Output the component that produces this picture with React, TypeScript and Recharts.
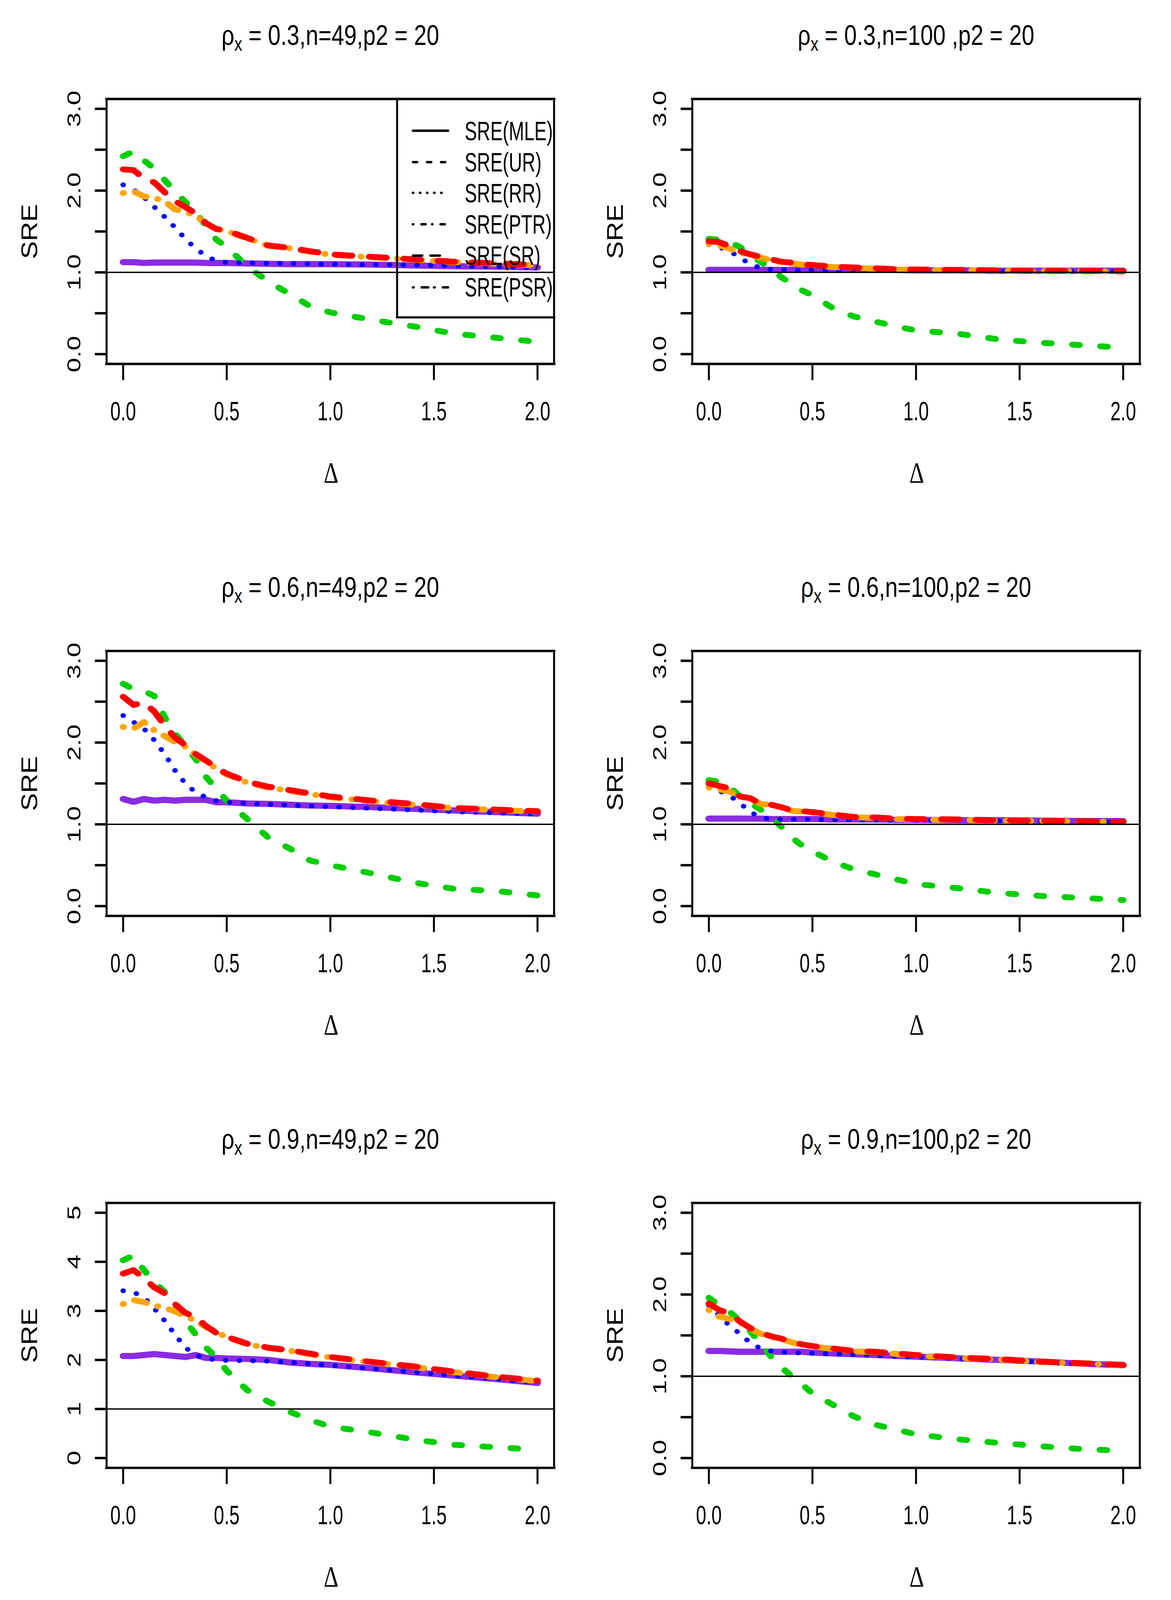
import React from 'react';
import { LineChart, Line, XAxis, YAxis, ReferenceLine } from 'recharts';

// ---------- data ----------
const delta = [0, 0.05, 0.1, 0.15, 0.2, 0.25, 0.3, 0.35, 0.4, 0.45, 0.5, 0.6, 0.7, 0.8, 0.9, 1.0, 1.2, 1.4, 1.6, 1.8, 2.0];

// panel 1: rho=0.3, n=49
const mle1 = [1.125, 1.125, 1.115, 1.12, 1.12, 1.12, 1.12, 1.12, 1.115, 1.115, 1.115, 1.11, 1.105, 1.1, 1.1, 1.1, 1.095, 1.085, 1.075, 1.07, 1.06];
const ur1 = [2.42, 2.48, 2.37, 2.27, 2.13, 1.99, 1.86, 1.73, 1.57, 1.4, 1.31, 1.07, 0.89, 0.74, 0.59, 0.51, 0.42, 0.34, 0.25, 0.2, 0.15];
const rr1 = [2.07, 2.01, 1.92, 1.8, 1.68, 1.55, 1.41, 1.29, 1.2, 1.14, 1.12, 1.115, 1.11, 1.11, 1.105, 1.1, 1.095, 1.09, 1.08, 1.07, 1.06];
const ptr1 = [1.97, 1.99, 1.93, 1.91, 1.87, 1.77, 1.74, 1.69, 1.6, 1.53, 1.505, 1.415, 1.325, 1.295, 1.255, 1.215, 1.185, 1.155, 1.125, 1.105, 1.085];
const sr1 = [2.26, 2.25, 2.15, 2.1, 1.98, 1.87, 1.8, 1.72, 1.6, 1.53, 1.51, 1.42, 1.33, 1.3, 1.26, 1.22, 1.19, 1.16, 1.13, 1.11, 1.09];

// panel 2: rho=0.3, n=100
const mle2 = [1.03, 1.03, 1.03, 1.03, 1.03, 1.03, 1.03, 1.03, 1.03, 1.03, 1.03, 1.03, 1.03, 1.03, 1.03, 1.025, 1.025, 1.02, 1.02, 1.02, 1.02];
const ur2 = [1.41, 1.4, 1.37, 1.31, 1.2, 1.13, 1.04, 0.94, 0.86, 0.78, 0.72, 0.56, 0.46, 0.4, 0.34, 0.29, 0.25, 0.18, 0.14, 0.11, 0.08];
const rr2 = [1.34, 1.31, 1.26, 1.18, 1.1, 1.055, 1.035, 1.03, 1.03, 1.025, 1.025, 1.025, 1.02, 1.02, 1.02, 1.02, 1.015, 1.015, 1.01, 1.01, 1.01];
const ptr2 = [1.35, 1.33, 1.29, 1.24, 1.21, 1.18, 1.15, 1.125, 1.11, 1.095, 1.085, 1.065, 1.055, 1.045, 1.035, 1.03, 1.025, 1.02, 1.015, 1.015, 1.01];
const sr2 = [1.38, 1.37, 1.32, 1.26, 1.22, 1.19, 1.16, 1.13, 1.12, 1.1, 1.09, 1.07, 1.06, 1.05, 1.04, 1.035, 1.03, 1.025, 1.02, 1.02, 1.015];

// panel 3: rho=0.6, n=49
const mle3 = [1.31, 1.275, 1.31, 1.29, 1.3, 1.29, 1.3, 1.3, 1.3, 1.27, 1.27, 1.255, 1.25, 1.24, 1.23, 1.225, 1.21, 1.19, 1.17, 1.15, 1.13];
const ur3 = [2.72, 2.65, 2.63, 2.57, 2.31, 2.11, 1.96, 1.8, 1.58, 1.43, 1.29, 1.06, 0.84, 0.71, 0.56, 0.5, 0.4, 0.29, 0.21, 0.185, 0.13];
const rr3 = [2.33, 2.25, 2.17, 2.03, 1.86, 1.66, 1.5, 1.39, 1.33, 1.29, 1.27, 1.255, 1.245, 1.235, 1.225, 1.215, 1.195, 1.175, 1.155, 1.14, 1.125];
const ptr3 = [2.19, 2.17, 2.25, 2.15, 2.08, 2.01, 1.95, 1.85, 1.77, 1.68, 1.61, 1.51, 1.45, 1.41, 1.37, 1.33, 1.28, 1.24, 1.195, 1.175, 1.155];
const sr3 = [2.56, 2.46, 2.49, 2.38, 2.21, 2.06, 1.97, 1.86, 1.78, 1.69, 1.62, 1.52, 1.46, 1.42, 1.38, 1.34, 1.29, 1.25, 1.2, 1.18, 1.16];

// panel 4: rho=0.6, n=100
const mle4 = [1.07, 1.07, 1.07, 1.07, 1.07, 1.07, 1.065, 1.065, 1.065, 1.065, 1.065, 1.06, 1.06, 1.06, 1.055, 1.055, 1.05, 1.05, 1.045, 1.04, 1.04];
const ur4 = [1.54, 1.52, 1.46, 1.34, 1.26, 1.18, 1.09, 0.97, 0.84, 0.74, 0.67, 0.54, 0.45, 0.39, 0.33, 0.27, 0.22, 0.16, 0.125, 0.1, 0.075];
const rr4 = [1.45, 1.41, 1.35, 1.26, 1.15, 1.085, 1.065, 1.06, 1.06, 1.06, 1.06, 1.055, 1.055, 1.05, 1.05, 1.05, 1.045, 1.04, 1.035, 1.035, 1.03];
const ptr4 = [1.45, 1.43, 1.4, 1.34, 1.31, 1.25, 1.235, 1.205, 1.165, 1.155, 1.145, 1.115, 1.085, 1.08, 1.065, 1.06, 1.055, 1.045, 1.04, 1.035, 1.03];
const sr4 = [1.5, 1.47, 1.44, 1.34, 1.32, 1.25, 1.24, 1.21, 1.17, 1.16, 1.15, 1.12, 1.09, 1.085, 1.07, 1.065, 1.06, 1.05, 1.045, 1.04, 1.03];

// panel 5: rho=0.9, n=49
const mle5 = [2.08, 2.08, 2.1, 2.12, 2.1, 2.08, 2.06, 2.1, 2.04, 2.04, 2.03, 2.02, 2.0, 1.95, 1.92, 1.9, 1.83, 1.75, 1.68, 1.61, 1.53];
const ur5 = [4.03, 4.13, 3.83, 3.59, 3.39, 3.12, 2.79, 2.52, 2.25, 2.05, 1.78, 1.38, 1.15, 0.95, 0.78, 0.64, 0.52, 0.38, 0.27, 0.22, 0.17];
const rr5 = [3.41, 3.38, 3.28, 3.05, 2.8, 2.52, 2.25, 2.1, 2.03, 2.0, 1.99, 1.985, 1.975, 1.95, 1.92, 1.89, 1.82, 1.75, 1.68, 1.61, 1.53];
const ptr5 = [3.14, 3.22, 3.18, 3.11, 3.06, 2.99, 2.89, 2.8, 2.67, 2.57, 2.46, 2.32, 2.24, 2.19, 2.12, 2.05, 1.95, 1.86, 1.75, 1.65, 1.57];
const sr5 = [3.76, 3.83, 3.67, 3.48, 3.36, 3.14, 2.96, 2.87, 2.69, 2.55, 2.47, 2.33, 2.25, 2.2, 2.13, 2.06, 1.96, 1.87, 1.76, 1.66, 1.58];

// panel 6: rho=0.9, n=100
const mle6 = [1.31, 1.31, 1.305, 1.3, 1.3, 1.3, 1.3, 1.3, 1.3, 1.3, 1.29, 1.28, 1.27, 1.26, 1.25, 1.24, 1.22, 1.2, 1.18, 1.155, 1.135];
const ur6 = [1.96, 1.87, 1.79, 1.68, 1.55, 1.4, 1.24, 1.11, 1.0, 0.9, 0.79, 0.65, 0.51, 0.41, 0.35, 0.29, 0.23, 0.185, 0.145, 0.11, 0.09];
const rr6 = [1.87, 1.74, 1.62, 1.52, 1.41, 1.34, 1.31, 1.295, 1.29, 1.285, 1.28, 1.275, 1.265, 1.255, 1.245, 1.235, 1.215, 1.195, 1.175, 1.15, 1.13];
const ptr6 = [1.81, 1.73, 1.7, 1.66, 1.58, 1.52, 1.48, 1.455, 1.415, 1.385, 1.365, 1.335, 1.305, 1.295, 1.275, 1.255, 1.225, 1.205, 1.175, 1.155, 1.135];
const sr6 = [1.89, 1.81, 1.77, 1.67, 1.59, 1.53, 1.49, 1.46, 1.42, 1.39, 1.37, 1.34, 1.31, 1.3, 1.28, 1.26, 1.23, 1.21, 1.18, 1.16, 1.14];

// labels / ticks
const titleMid = ['0.3,n=49,p2', '0.3,n=100 ,p2', '0.6,n=49,p2', '0.6,n=100,p2', '0.9,n=49,p2', '0.9,n=100,p2'];
const titleEnd = '20';
const xTicks = [0, 0.5, 1, 1.5, 2];
const yTicksHalf = [0, 0.5, 1, 1.5, 2, 2.5, 3];
const yTicksInt = [0, 1, 2, 3, 4, 5];
const legendLabels = ['SRE(MLE)', 'SRE(UR)', 'SRE(RR)', 'SRE(PTR)', 'SRE(SR)', 'SRE(PSR)'];

// ---------- styling ----------
const SANS = "'Liberation Sans', Arial, Helvetica, sans-serif";
const SERIF = "'Liberation Serif', 'Times New Roman', serif";
const COL = { mle: '#8A2BE2', ur: '#00CD00', rr: '#0000FF', ptr: '#FFA500', sr: '#FF0000' };

const PW = 1500;
const ROW = 1600;
const PAGE_W = 2999;
const PAGE_H = 4638;
// the photograph is 4096 px tall: fit the whole figure into it
const FIT_Y = 4096 / 4638;
const PLOT = { left: 273, right: 1419, top: 287, bottom: 1055 };
const XAXIS_H = 60;
const YAXIS_W = 60;

type Spec = {
  mle: number[]; ur: number[]; rr: number[]; ptr: number[]; sr: number[];
  yMax: number; ticks: number[]; decimals: boolean; legend: boolean;
};

const specs: Spec[] = [
  { mle: mle1, ur: ur1, rr: rr1, ptr: ptr1, sr: sr1, yMax: 3, ticks: yTicksHalf, decimals: true, legend: true },
  { mle: mle2, ur: ur2, rr: rr2, ptr: ptr2, sr: sr2, yMax: 3, ticks: yTicksHalf, decimals: true, legend: false },
  { mle: mle3, ur: ur3, rr: rr3, ptr: ptr3, sr: sr3, yMax: 3, ticks: yTicksHalf, decimals: true, legend: false },
  { mle: mle4, ur: ur4, rr: rr4, ptr: ptr4, sr: sr4, yMax: 3, ticks: yTicksHalf, decimals: true, legend: false },
  { mle: mle5, ur: ur5, rr: rr5, ptr: ptr5, sr: sr5, yMax: 5, ticks: yTicksInt, decimals: false, legend: false },
  { mle: mle6, ur: ur6, rr: rr6, ptr: ptr6, sr: sr6, yMax: 3, ticks: yTicksHalf, decimals: true, legend: false },
];

const XTick = (props: any) => {
  const { x, y, payload } = props;
  return (
    <text
      transform={`translate(${x},${y + 114}) scale(0.985,1.6)`}
      textAnchor="middle"
      fontSize={48}
      fontFamily={SANS}
      fill="#000"
    >
      {Number(payload.value).toFixed(1)}
    </text>
  );
};

const makeYTick = (decimals: boolean) => (props: any) => {
  const { x, y, payload } = props;
  const v = Number(payload.value);
  if (Math.abs(v - Math.round(v)) > 1e-6) return <g />;
  const label = decimals ? v.toFixed(1) : String(v);
  return (
    <text
      transform={`translate(${x - 35},${y}) rotate(-90) scale(1.55,1)`}
      textAnchor="middle"
      fontSize={49}
      fontFamily={SANS}
      fill="#000"
    >
      {label}
    </text>
  );
};

const legendDash = ['', '10 26', '0.1 18', '0.1 21.5 10 17.4', '23 22', '1 21.5 16 15.5'];

const Overlay = ({ idx, height, legend }: { idx: number; height: number; legend: boolean }) => {
  const cx = (PLOT.left + PLOT.right) / 2;
  const cy = (PLOT.top + PLOT.bottom) / 2;
  const legendTop = PLOT.top;
  const legendBottom = 920;
  const legendLeft = 1017;
  const rowY = [379, 470, 559, 650, 741, 833];
  return (
    <svg
      width={PW}
      height={height}
      style={{ position: 'absolute', left: 0, top: 0, pointerEvents: 'none' }}
    >
      <text
        transform={`translate(${cx},130) scale(1,1.4)`}
        textAnchor="middle"
        fontSize={58}
        fontFamily={SANS}
        fill="#000"
        style={{ whiteSpace: 'pre' }}
      >
        <tspan>ρ</tspan>
        <tspan fontSize={40} dy={12}>x</tspan>
        <tspan dy={-12}>{` = ${titleMid[idx]} = ${titleEnd}`}</tspan>
      </text>
      <text
        transform={`translate(95,${cy}) rotate(-90) scale(1.36,1)`}
        textAnchor="middle"
        fontSize={57}
        fontFamily={SANS}
        fill="#000"
      >
        SRE
      </text>
      <text
        transform={`translate(${cx + 2},1399) scale(1.05,1.55)`}
        textAnchor="middle"
        fontSize={56}
        fontFamily={SERIF}
        fill="#000"
      >
        Δ
      </text>
      {legend && (
        <g>
          <line x1={legendLeft} y1={legendTop} x2={legendLeft} y2={legendBottom} stroke="#000" strokeWidth={5} />
          <line x1={legendLeft} y1={legendBottom} x2={PLOT.right} y2={legendBottom} stroke="#000" strokeWidth={6} strokeLinecap="square" />
          {legendLabels.map((lab, i) => (
            <g key={lab}>
              <line
                x1={1058}
                x2={1147}
                y1={rowY[i]}
                y2={rowY[i]}
                stroke="#000"
                strokeWidth={7}
                strokeLinecap="round"
                strokeDasharray={legendDash[i] || undefined}
              />
              <text
                transform={`translate(1190,${rowY[i] + 27}) scale(0.985,1.6)`}
                fontSize={48}
                fontFamily={SANS}
                fill="#000"
              >
                {lab}
              </text>
            </g>
          ))}
        </g>
      )}
    </svg>
  );
};

const Panel = ({ spec, idx }: { spec: Spec; idx: number }) => {
  const col = idx % 2;
  const row = Math.floor(idx / 2);
  const top = row * ROW;
  const height = Math.min(ROW, PAGE_H - top);
  const data = delta.map((d, i) => ({
    d,
    mle: spec.mle[i],
    ur: spec.ur[i],
    rr: spec.rr[i],
    ptr: spec.ptr[i],
    sr: spec.sr[i],
  }));
  const pad = spec.yMax * 0.04;
  const yMin = -pad;
  const yMax = spec.yMax + pad;
  const xMin = -0.08;
  const xMax = 2.08;
  const margin = {
    top: PLOT.top,
    left: PLOT.left - YAXIS_W,
    right: PW - PLOT.right,
    bottom: height - PLOT.bottom - XAXIS_H,
  };
  const common = { dot: false, isAnimationActive: false, strokeLinecap: 'round' as const, strokeLinejoin: 'round' as const, type: 'linear' as const };
  return (
    <div style={{ position: 'absolute', left: col * PW, top, width: PW, height }}>
      <LineChart width={PW} height={height} data={data} margin={margin}>
        <XAxis
          type="number"
          dataKey="d"
          domain={[xMin, xMax]}
          ticks={xTicks}
          interval={0}
          allowDataOverflow
          axisLine={false}
          tickSize={47}
          tickLine={{ stroke: '#000', strokeWidth: 5 }}
          tick={(p: any) => <XTick {...p} />}
          height={XAXIS_H}
        />
        <YAxis
          type="number"
          domain={[yMin, yMax]}
          ticks={spec.ticks}
          interval={0}
          allowDataOverflow
          axisLine={false}
          tickSize={30}
          tickLine={{ stroke: '#000', strokeWidth: 7 }}
          tick={makeYTick(spec.decimals)}
          width={YAXIS_W}
        />
        <ReferenceLine x={xMin} stroke="#000" strokeWidth={5} strokeLinecap="square" />
        <ReferenceLine x={xMax} stroke="#000" strokeWidth={5} strokeLinecap="square" />
        <ReferenceLine y={yMin} stroke="#000" strokeWidth={7} strokeLinecap="square" />
        <ReferenceLine y={yMax} stroke="#000" strokeWidth={7} strokeLinecap="square" />
        <Line dataKey="mle" stroke={COL.mle} strokeWidth={18} {...common} />
        <Line dataKey="ur" stroke={COL.ur} strokeWidth={17} strokeDasharray="18 54" {...common} />
        <Line dataKey="rr" stroke={COL.rr} strokeWidth={14} strokeDasharray="0.1 35" {...common} />
        <Line dataKey="ptr" stroke={COL.ptr} strokeWidth={17} strokeDasharray="1 30 32 30" {...common} />
        <Line dataKey="sr" stroke={COL.sr} strokeWidth={17} strokeDasharray="44 44" {...common} />
        <ReferenceLine y={1} stroke="#000" strokeWidth={4} />
      </LineChart>
      <Overlay idx={idx} height={height} legend={spec.legend} />
    </div>
  );
};

export default function App() {
  return (
    <div
      style={{
        position: 'absolute',
        left: 0,
        top: 0,
        width: PAGE_W,
        height: PAGE_H,
        background: '#fff',
        overflow: 'hidden',
        transform: `scaleY(${FIT_Y})`,
        transformOrigin: '0 0',
      }}
    >
      {specs.map((s, i) => (
        <Panel key={i} spec={s} idx={i} />
      ))}
    </div>
  );
}
